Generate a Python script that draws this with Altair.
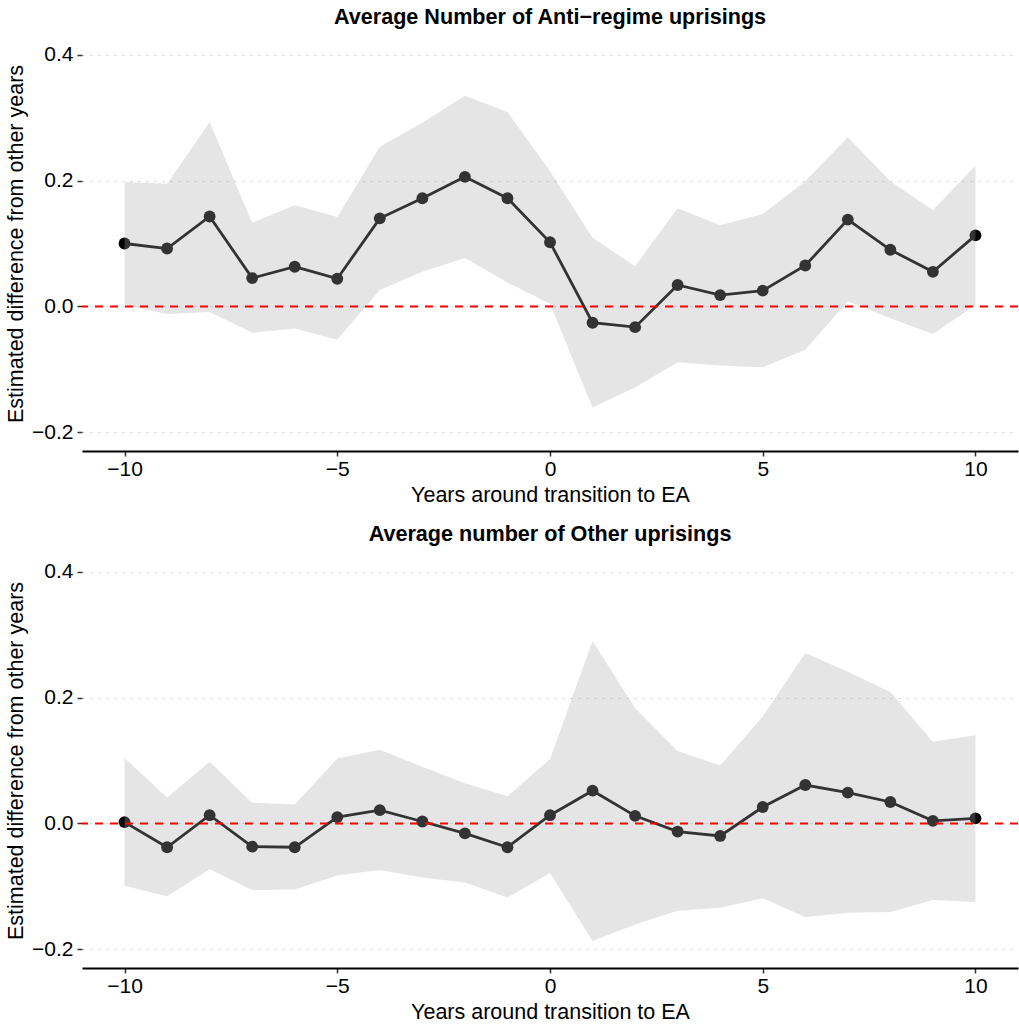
import altair as alt
import pandas as pd

years = list(range(-10, 11))

anti_est = [0.100, 0.092, 0.143, 0.045, 0.063, 0.044, 0.140, 0.172, 0.206, 0.172,
            0.102, -0.026, -0.033, 0.034, 0.018, 0.025, 0.065, 0.138, 0.090, 0.055, 0.113]
anti_lo = [0.002, -0.012, -0.009, -0.042, -0.035, -0.053, 0.026, 0.055, 0.077, 0.038,
           0.004, -0.161, -0.129, -0.089, -0.094, -0.097, -0.069, 0.008, -0.019, -0.044, 0.002]
anti_hi = [0.198, 0.195, 0.293, 0.133, 0.161, 0.142, 0.254, 0.292, 0.335, 0.309,
           0.215, 0.109, 0.064, 0.156, 0.129, 0.147, 0.199, 0.269, 0.199, 0.153, 0.224]

other_est = [0.002, -0.038, 0.013, -0.037, -0.038, 0.010, 0.021, 0.003, -0.016, -0.038,
             0.013, 0.052, 0.012, -0.013, -0.020, 0.026, 0.061, 0.049, 0.034, 0.004, 0.008]
other_lo = [-0.099, -0.116, -0.073, -0.106, -0.105, -0.083, -0.074, -0.086, -0.094, -0.118,
            -0.079, -0.187, -0.161, -0.139, -0.134, -0.119, -0.149, -0.142, -0.141, -0.122, -0.125]
other_hi = [0.104, 0.041, 0.098, 0.033, 0.030, 0.103, 0.117, 0.090, 0.064, 0.043,
            0.102, 0.290, 0.183, 0.115, 0.092, 0.170, 0.271, 0.241, 0.209, 0.130, 0.140]

x_ticks = [-10, -5, 0, 5, 10]
y_ticks = [-0.2, 0.0, 0.2, 0.4]

FONT = "Liberation Sans"


def panel(title, est, lo, hi):
    df = pd.DataFrame({"year": years, "est": est, "lo": lo, "hi": hi})
    zero = pd.DataFrame({"est": [0.0]})
    xs = alt.Scale(domain=[-11, 11], nice=False, zero=False)
    ys = alt.Scale(domain=[-0.23, 0.43], nice=False, zero=False)
    xaxis = alt.Axis(values=x_ticks, title="Years around transition to EA", grid=False,
                     domain=True, domainColor="black", domainWidth=2,
                     ticks=True, tickSize=5, tickColor="#333333", tickWidth=1.5,
                     labelPadding=2, titlePadding=5)
    yaxis = alt.Axis(values=y_ticks, format=".1f", title="Estimated difference from other years",
                     grid=True, gridColor="#cfcfcf", gridDash=[2, 6], gridWidth=1.2,
                     domain=False, ticks=True, tickSize=5, tickColor="#333333", tickWidth=1.5,
                     labelPadding=4, titlePadding=4)
    x = alt.X("year:Q", scale=xs, axis=xaxis)
    base = alt.Chart(df)
    line = base.mark_line(color="black", strokeWidth=2.8).encode(
        x=x, y=alt.Y("est:Q", scale=ys, axis=yaxis))
    pts = base.mark_point(filled=True, color="black", opacity=1, size=140).encode(
        x=x, y=alt.Y("est:Q", scale=ys, axis=yaxis))
    band = base.mark_area(color="#a9a9a9", opacity=0.3).encode(
        x=x, y=alt.Y("lo:Q", scale=ys, axis=yaxis), y2="hi:Q")
    rule = alt.Chart(zero).mark_rule(color="#ff0000", strokeDash=[8, 7], strokeWidth=2).encode(
        y=alt.Y("est:Q", scale=ys, axis=yaxis))
    return alt.layer(line, pts, band, rule).properties(
        width=936, height=415,
        title=alt.TitleParams(title, fontSize=21.6, fontWeight="bold", font=FONT,
                              color="black", anchor="middle", offset=7))


p1 = panel("Average Number of Anti\u2212regime uprisings", anti_est, anti_lo, anti_hi)
p2 = panel("Average number of Other uprisings", other_est, other_lo, other_hi)

chart = alt.vconcat(p1, p2, spacing=18).properties(
    padding={"left": 5, "top": 7, "right": 0, "bottom": 0},
    background="white",
).configure_view(stroke=None).configure_axis(
    labelFont=FONT, titleFont=FONT, labelFontSize=21, titleFontSize=21.5,
    labelColor="black", titleColor="black", titleFontWeight="normal",
)

chart.save("out.html", embed_options={"renderer": "svg", "actions": False})
